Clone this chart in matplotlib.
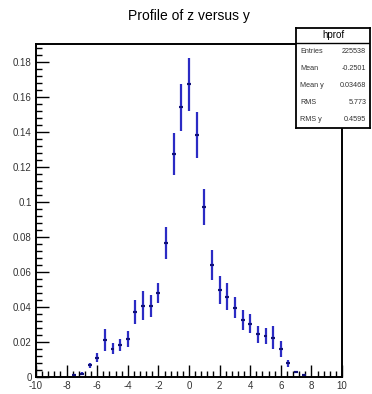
# Profile of z versus y, drawn in the ROOT look (hprof with its stats box).
import matplotlib
matplotlib.use('Agg')
import matplotlib.pyplot as plt
from matplotlib.ticker import MultipleLocator, FuncFormatter
from matplotlib.patches import Rectangle

plt.rcParams['font.family'] = ['Liberation Sans', 'DejaVu Sans']

# bin centres, profile means and errors
y_centres = [-7.5, -7.0, -6.5, -6.0, -5.5, -5.0, -4.5, -4.0, -3.5, -3.0, -2.5,
             -2.0, -1.5, -1.0, -0.5, 0.0, 0.5, 1.0, 1.5, 2.0, 2.5, 3.0, 3.5,
             4.0, 4.5, 5.0, 5.5, 6.0, 6.5, 7.0, 7.5]
z_mean = [0.0013, 0.0018, 0.0066, 0.0111, 0.0213, 0.0162, 0.0181, 0.0219,
          0.0372, 0.0406, 0.0406, 0.0478, 0.0765, 0.127, 0.154, 0.167, 0.138,
          0.097, 0.064, 0.0497, 0.0458, 0.0395, 0.0324, 0.0305, 0.0244,
          0.0234, 0.0223, 0.0162, 0.0079, 0.0028, 0.0009]
z_err = [0.0005, 0.0008, 0.0015, 0.0024, 0.0063, 0.0033, 0.0033, 0.0046,
         0.0070, 0.0082, 0.0064, 0.0058, 0.0090, 0.0120, 0.0134, 0.0150,
         0.0130, 0.0105, 0.0086, 0.0081, 0.0077, 0.0060, 0.0057, 0.0055,
         0.0048, 0.0048, 0.0066, 0.0046, 0.0020, 0.0008, 0.0005]

stat_names = ['Entries', 'Mean', 'Mean y', 'RMS', 'RMS y']
stat_values = ['225538', '-0.2501', '0.03468', '5.773', '0.4595']

W, H = 372, 394
fig = plt.figure(figsize=(W / 100, H / 100), dpi=100)
ax = fig.add_axes([36 / W, (H - 377) / H, (342 - 36) / W, (377 - 44) / H])

ax.errorbar(y_centres, z_mean, yerr=z_err, xerr=0.13, fmt='none',
            ecolor='#2b2bc4', elinewidth=1.6, capsize=0)
ax.errorbar(y_centres, z_mean, xerr=0.13, fmt='none',
            ecolor='#0a0a60', elinewidth=1.1, capsize=0)

ax.set_xlim(-10, 10)
ax.set_ylim(0, 0.19)
ax.xaxis.set_major_locator(MultipleLocator(2))
ax.xaxis.set_minor_locator(MultipleLocator(0.4))
ax.yaxis.set_major_locator(MultipleLocator(0.02))
ax.yaxis.set_minor_locator(MultipleLocator(0.004))
fmt = FuncFormatter(lambda v, p: '0' if abs(v) < 1e-12 else '%g' % round(v, 4))
ax.xaxis.set_major_formatter(fmt)
ax.yaxis.set_major_formatter(fmt)
ax.tick_params(which='both', direction='in', top=False, right=False,
               labelsize=7, width=1.0, colors='black', labelcolor='#333333')
ax.tick_params(which='major', length=9, pad=3)
ax.tick_params(which='minor', length=4.5)
for s in ax.spines.values():
    s.set_linewidth(1.4)

fig.text(189 / W, 1 - 16 / H, 'Profile of z versus y', ha='center',
         va='center', fontsize=10)

# stats box
bx0, bx1, by0, by1, bt = 296, 370, 28, 128, 43
box = fig.add_axes([bx0 / W, (H - by1) / H, (bx1 - bx0) / W, (by1 - by0) / H])
box.set_xlim(0, 1)
box.set_ylim(0, 1)
box.set_xticks([])
box.set_yticks([])
for s in box.spines.values():
    s.set_linewidth(1.3)
box.add_patch(Rectangle((0, 0), 1, 1, facecolor='white', edgecolor='none'))
ht = (bt - by0) / (by1 - by0)
box.axhline(1 - ht, color='black', lw=1.0)
box.text(0.5, 1 - ht / 2, 'hprof', ha='center', va='center', fontsize=7)
row_h = (1 - ht) / len(stat_names)
for i, (name, val) in enumerate(zip(stat_names, stat_values)):
    yy = 1 - ht - row_h * (i + 0.5)
    box.text(0.06, yy, name, ha='left', va='center', fontsize=5.2,
             color='#333333')
    box.text(0.95, yy, val, ha='right', va='center', fontsize=5.2,
             color='#333333')

fig.savefig('out.png', dpi=100)
